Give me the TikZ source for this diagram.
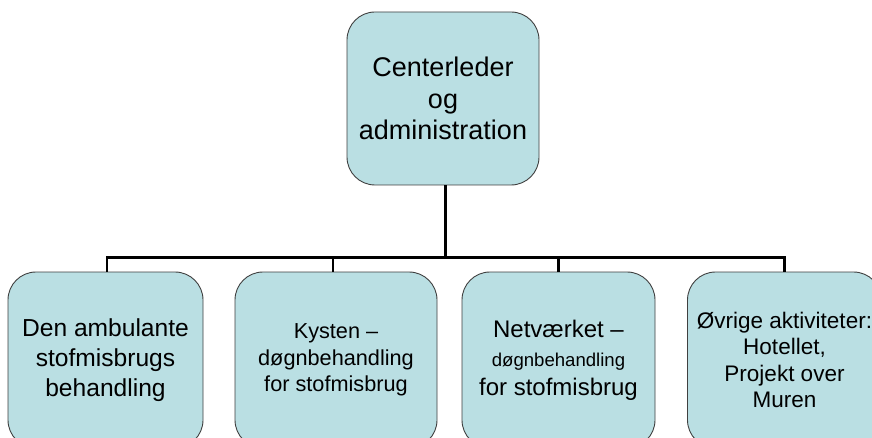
\documentclass[tikz,border=0pt]{standalone}
\usepackage{fontspec}
\setmainfont{Liberation Sans}
\definecolor{boxfill}{RGB}{186,223,227}
\definecolor{boxline}{RGB}{64,64,64}
\begin{document}
\begin{tikzpicture}[x=1pt,y=-1pt,
  unit/.style={draw=boxline,line width=0.9pt,fill=boxfill,rounded corners=28pt,
    inner sep=0pt,align=center,text=black},
  conn/.style={line width=2.6pt,black}]
\clip (0,0) rectangle (872,438);
\fill[white] (0,0) rectangle (872,438);
\node[unit,minimum width=192pt,minimum height=173pt,
  font=\fontsize{27}{31.5}\selectfont] (top) at (443,98.5)
  {Centerleder\\og\\administration};
\node[unit,minimum width=195pt,minimum height=176pt,
  font=\fontsize{24.6}{30}\selectfont] (b1) at (105.5,360)
  {Den ambulante\\stofmisbrugs\\behandling};
\node[unit,minimum width=202pt,minimum height=176pt,
  font=\fontsize{21.7}{26.5}\selectfont] (b2) at (336,360)
  {Kysten --\\døgnbehandling\\for stofmisbrug};
\node[unit,minimum width=193pt,minimum height=176pt,
  font=\fontsize{24}{29}\selectfont] (b3) at (558.5,360)
  {Netværket --\\{\fontsize{18.6}{22}\selectfont døgnbehandling}\\for stofmisbrug};
\node[unit,minimum width=194pt,minimum height=176pt,
  font=\fontsize{22.5}{26.5}\selectfont] (b4) at (784.5,360)
  {Øvrige aktiviteter:\\Hotellet,\\Projekt over\\Muren};
\coordinate (bus) at (445.5,257.5);
\draw[conn] (top.south -| bus) -- (bus);
\draw[conn] ([xshift=1.5pt]b1.north) -- ([xshift=1.5pt]b1.north |- bus) -- (b4.north |- bus) -- (b4.north);
\draw[conn] ([xshift=-3pt]b2.north) -- ([xshift=-3pt]b2.north |- bus);
\draw[conn] (b3.north) -- (b3.north |- bus);
\end{tikzpicture}
\end{document}
